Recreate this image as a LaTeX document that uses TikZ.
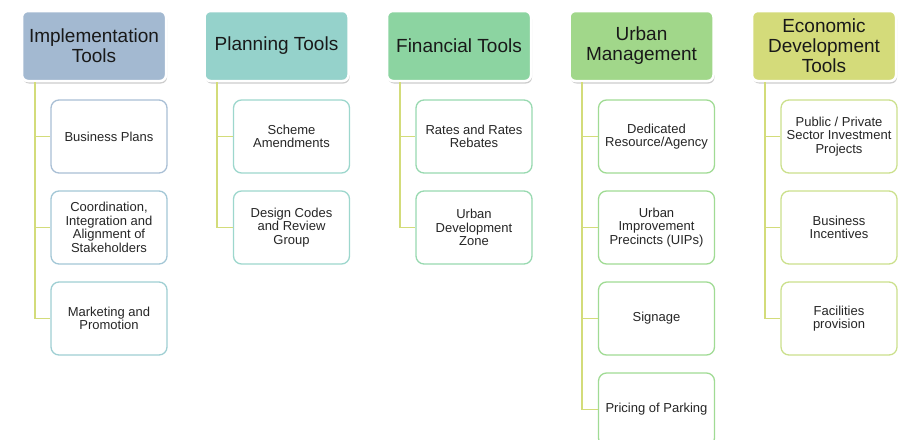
\documentclass[tikz,border=0pt]{standalone}
\usepackage{fontspec}
\setmainfont{Liberation Sans}
\usepackage{xcolor}
\usepackage{tikz}
\usetikzlibrary{shadows,calc}

\definecolor{headA}{HTML}{A3B9D1}
\definecolor{headB}{HTML}{95D2CB}
\definecolor{headC}{HTML}{8CD4A1}
\definecolor{headD}{HTML}{A1D78A}
\definecolor{headE}{HTML}{D4DB7A}
\definecolor{edgeA}{HTML}{A9BFD5}
\definecolor{edgeAB}{HTML}{A3C7D6}
\definecolor{edgeAC}{HTML}{9FCFD3}
\definecolor{edgeB}{HTML}{9DD7CD}
\definecolor{edgeC}{HTML}{98D9B0}
\definecolor{edgeD}{HTML}{A0DB94}
\definecolor{edgeE}{HTML}{CBE08C}
\definecolor{linkcol}{HTML}{D3DC7A}

\begin{document}
\begin{tikzpicture}[
  x=1pt,y=-1pt,
  head/.style={draw=white, line width=2.5pt, rounded corners=6pt,
    minimum width=144pt, minimum height=70pt, align=center, text=black!90,
    font=\fontsize{19}{20}\selectfont,
    drop shadow={opacity=0.4, shadow xshift=1pt, shadow yshift=-2.5pt}},
  item/.style={draw, fill=white, line width=1.3pt, rounded corners=8pt,
    minimum width=116pt, minimum height=73pt, align=center, text=black!85,
    font=\fontsize{13}{13.6}\selectfont},
  link/.style={draw=linkcol, line width=1.8pt}
]
\useasboundingbox (0,0) rectangle (901,439);
\clip (0,0) rectangle (901,439);

% headers
\node[head, fill=headA] (impl) at (94,46) {Implementation\\Tools};
\node[head, fill=headB] (plan) at (276.5,46) {Planning Tools};
\node[head, fill=headC] (fin) at (459,46) {Financial Tools};
\node[head, fill=headD] (urban) at (641.5,46) {Urban\\Management};
\node[head, fill=headE] (econ) at (824,46) {Economic\\Development\\Tools};

% implementation tools
\node[item, draw=edgeA] (bizplan) at (109,136.5) {Business Plans};
\node[item, draw=edgeAB] (coord) at (109,227.5) {Coordination,\\Integration and\\Alignment of\\Stakeholders};
\node[item, draw=edgeAC] (market) at (109,318.5) {Marketing and\\Promotion};

% planning tools
\node[item, draw=edgeB] (scheme) at (291.5,136.5) {Scheme\\Amendments};
\node[item, draw=edgeB] (design) at (291.5,227.5) {Design Codes\\and Review\\Group};

% financial tools
\node[item, draw=edgeC] (rates) at (474,136.5) {Rates and Rates\\Rebates};
\node[item, draw=edgeC] (udz) at (474,227.5) {Urban\\Development\\Zone};

% urban management
\node[item, draw=edgeD] (agency) at (656.5,136.5) {Dedicated\\Resource/Agency};
\node[item, draw=edgeD] (uip) at (656.5,227.5) {Urban\\Improvement\\Precincts (UIPs)};
\node[item, draw=edgeD] (sign) at (656.5,318.5) {Signage};
\node[item, draw=edgeD] (parking) at (656.5,409.5) {Pricing of Parking};

% economic development tools
\node[item, draw=edgeE] (invest) at (839,136.5) {Public / Private\\Sector Investment\\Projects};
\node[item, draw=edgeE] (incent) at (839,227.5) {Business\\Incentives};
\node[item, draw=edgeE] (facil) at (839,318.5) {Facilities\\provision};

% connectors
\draw[link] ([xshift=14pt]impl.south west) |- (bizplan.west);
\draw[link] ([xshift=14pt]impl.south west) |- (coord.west);
\draw[link] ([xshift=14pt]impl.south west) |- (market.west);
\draw[link] ([xshift=14pt]plan.south west) |- (scheme.west);
\draw[link] ([xshift=14pt]plan.south west) |- (design.west);
\draw[link] ([xshift=14pt]fin.south west) |- (rates.west);
\draw[link] ([xshift=14pt]fin.south west) |- (udz.west);
\draw[link] ([xshift=14pt]urban.south west) |- (agency.west);
\draw[link] ([xshift=14pt]urban.south west) |- (uip.west);
\draw[link] ([xshift=14pt]urban.south west) |- (sign.west);
\draw[link] ([xshift=14pt]urban.south west) |- (parking.west);
\draw[link] ([xshift=14pt]econ.south west) |- (invest.west);
\draw[link] ([xshift=14pt]econ.south west) |- (incent.west);
\draw[link] ([xshift=14pt]econ.south west) |- (facil.west);
\end{tikzpicture}
\end{document}
